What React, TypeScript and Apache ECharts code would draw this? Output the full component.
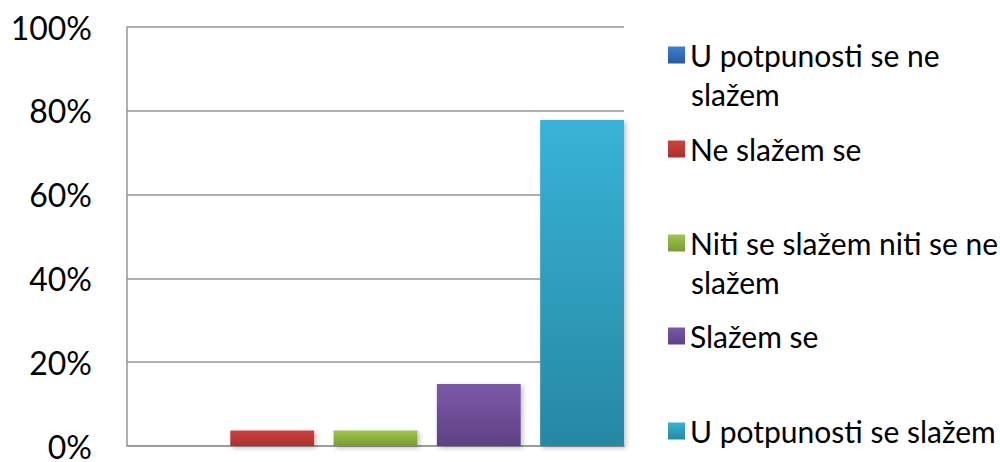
import React, { useEffect, useRef } from "react";
import * as echarts from "echarts";

const categories = ["Odgovori"];
const seriesNames = [
  "U potpunosti se ne slažem",
  "Ne slažem se",
  "Niti se slažem niti se ne slažem",
  "Slažem se",
  "U potpunosti se slažem",
];
const seriesValues = [0, 3.7, 3.7, 14.8, 77.8];
const legendLines = [
  ["U potpunosti se ne", "slažem"],
  ["Ne slažem se"],
  ["Niti se slažem niti se ne", "slažem"],
  ["Slažem se"],
  ["U potpunosti se slažem"],
];
const yTicks = [0, 20, 40, 60, 80, 100];

const gradients = [
  ["#3D7FD3", "#2A5A9B"],
  ["#D2403E", "#A6322F"],
  ["#9EC74B", "#7A9A37"],
  ["#7C59A9", "#5E4182"],
  ["#38B3D7", "#2688A3"],
];

const FONT = "Lato, 'Liberation Sans', sans-serif";

export default function App() {
  const ref = useRef<HTMLDivElement>(null);
  useEffect(() => {
    document.body.style.margin = "0";
    const chart = echarts.init(ref.current!, null, { renderer: "svg" });
    const legendCenters = [55, 149, 243, 336, 431];
    const colorOf = (i: number) =>
      new echarts.graphic.LinearGradient(0, 0, 0, 1, [
        { offset: 0, color: gradients[i][0] },
        { offset: 1, color: gradients[i][1] },
      ]);
    const legends = seriesNames.map((name, i) => ({
      data: [name],
      left: 668,
      top: legendCenters[i] - 18,
      orient: "vertical",
      padding: 0,
      icon: "rect",
      itemWidth: 17,
      itemHeight: 17,
      itemGap: 8,
      selectedMode: false,
      formatter: () => legendLines[i][0],
      textStyle: { fontSize: 30, color: "#000", fontFamily: FONT, lineHeight: 36 },
    }));
    const graphics: any[] = [];
    legendLines.forEach((lines, i) => {
      if (lines.length > 1) {
        graphics.push({
          type: "text",
          left: 691,
          top: legendCenters[i] + 39 - 18,
          style: {
            text: lines[1],
            fontSize: 30,
            fill: "#000",
            fontFamily: FONT,
            lineHeight: 36,
          },
        });
      }
    });
    chart.setOption({
      animation: false,
      backgroundColor: "#fff",
      grid: { left: 127, right: 376, top: 27, bottom: 15, containLabel: false },
      legend: legends,
      graphic: graphics,
      xAxis: {
        type: "category",
        data: categories,
        axisLine: { show: true, lineStyle: { color: "#969696", width: 1.5 } },
        axisTick: { show: false },
        axisLabel: { show: false },
      },
      yAxis: {
        type: "value",
        min: 0,
        max: 100,
        interval: 20,
        axisLine: { show: true, lineStyle: { color: "#969696", width: 1.5 } },
        axisTick: { show: false },
        splitLine: { show: true, lineStyle: { color: "#969696", width: 1.5 } },
        axisLabel: {
          formatter: (v: number) => (yTicks.includes(v) ? v + "%" : ""),
          fontSize: 32,
          lineHeight: 26,
          color: "#000",
          fontFamily: FONT,
          margin: 35,
        },
      },
      series: seriesNames.map((name, i) => ({
        name,
        type: "bar",
        data: [seriesValues[i]],
        barGap: "23.2%",
        barCategoryGap: "0%",
        itemStyle: {
          color: colorOf(i),
          shadowColor: "rgba(0,0,0,0.25)",
          shadowBlur: 5,
          shadowOffsetX: 2,
          shadowOffsetY: 2,
        },
      })),
    });
    return () => chart.dispose();
  }, []);
  return (
    <div
      ref={ref}
      style={{ position: "absolute", left: 0, top: 0, width: 1000, height: 462 }}
    />
  );
}
